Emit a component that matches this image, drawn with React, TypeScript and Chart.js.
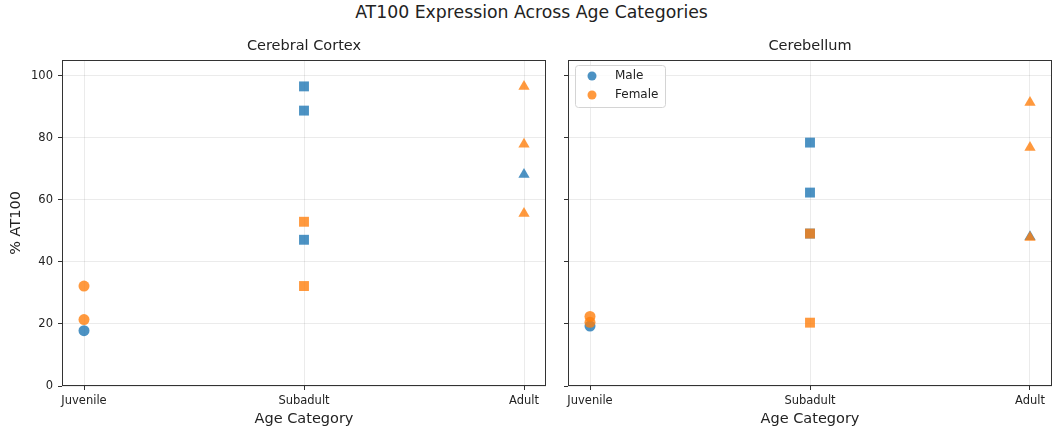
import React, { useEffect, useRef } from 'react';
import { Chart, registerables } from 'chart.js';

Chart.register(...registerables);

// Category axis and ticks
const categories = ['Juvenile', 'Subadult', 'Adult'];
const sexes = ['Male', 'Female'];
const yTickValues = [0, 20, 40, 60, 80, 100];

// % AT100 per animal, grouped by age category (Juvenile, Subadult, Adult)
const cortexMale = [[17.8], [96.5, 88.7, 47.1], [68.1]];
const cortexFemale = [[32.2, 21.4], [52.9, 32.2], [96.5, 77.9, 55.6]];
const cerebellumMale = [[19.3], [78.4, 62.3, 49.1], [48.1]];
const cerebellumFemale = [[22.4, 20.5], [49.1, 20.4], [91.3, 76.8, 47.8]];

const BLUE = 'rgba(31, 119, 180, 0.8)';
const ORANGE = 'rgba(255, 127, 14, 0.8)';
const FONT = "'DejaVu Sans', sans-serif";
const TEXT = '#222';
const GRID = 'rgba(0, 0, 0, 0.08)';

const toPoints = (groups: number[][]) =>
  groups.flatMap((vals, ci) => vals.map(v => ({ x: ci, y: v })));

// one marker shape per age category
const markerFor = (ctx: any) => ['circle', 'rect', 'triangle'][ctx.raw?.x ?? 0];
const radiusFor = (ctx: any) => [5.5, 7, 6.5][ctx.raw?.x ?? 0];

// box around the plot area, like matplotlib spines
const framePlugin = {
  id: 'frame',
  afterDraw(chart: any) {
    const { ctx, chartArea: a } = chart;
    ctx.save();
    ctx.strokeStyle = '#333';
    ctx.lineWidth = 1;
    ctx.strokeRect(Math.round(a.left) + 0.5, Math.round(a.top) + 0.5,
      Math.round(a.right - a.left) - 1, Math.round(a.bottom - a.top) - 1);
    ctx.restore();
  }
};

// legend drawn inside the upper-left corner of the plot area
const insideLegend = {
  id: 'insideLegend',
  afterDraw(chart: any) {
    const { ctx, chartArea: a } = chart;
    const x = Math.round(a.left) + 7;
    const y = Math.round(a.top) + 5;
    ctx.save();
    ctx.fillStyle = 'rgba(255, 255, 255, 0.8)';
    ctx.strokeStyle = '#d4d4d4';
    ctx.lineWidth = 1;
    ctx.beginPath();
    ctx.roundRect(x + 0.5, y + 0.5, 90, 42, 3);
    ctx.fill();
    ctx.stroke();
    chart.data.datasets.forEach((ds: any, i: number) => {
      const cy = y + 11 + i * 19;
      ctx.fillStyle = ds.backgroundColor;
      ctx.beginPath();
      ctx.arc(x + 17, cy, 4.5, 0, Math.PI * 2);
      ctx.fill();
      ctx.fillStyle = TEXT;
      ctx.font = `12px ${FONT}`;
      ctx.textBaseline = 'middle';
      ctx.fillText(ds.label, x + 40, cy);
    });
    ctx.restore();
  }
};

interface PanelProps {
  title: string;
  male: number[][];
  female: number[][];
  width: number;
  yAxisWidth: number;
  padRight: number;
  showYLabels: boolean;
  legend: boolean;
}

const Panel: React.FC<PanelProps> = ({ title, male, female, width, yAxisWidth, padRight, showYLabels, legend }) => {
  const canvasRef = useRef<HTMLCanvasElement>(null);

  useEffect(() => {
    if (!canvasRef.current) return;
    const tickFont = { family: FONT, size: 11.5 };
    const labelFont = { family: FONT, size: 14.5 };

    const chart = new Chart(canvasRef.current, {
      type: 'scatter',
      data: {
        datasets: [
          {
            label: sexes[0],
            data: toPoints(male),
            backgroundColor: BLUE,
            borderWidth: 0,
            pointStyle: markerFor,
            pointRadius: radiusFor,
            order: 2 // drawn underneath the female points
          },
          {
            label: sexes[1],
            data: toPoints(female),
            backgroundColor: ORANGE,
            borderWidth: 0,
            pointStyle: markerFor,
            pointRadius: radiusFor,
            order: 1
          }
        ]
      } as any,
      options: {
        responsive: false,
        animation: false,
        layout: { padding: { left: 0, right: padRight, top: 0, bottom: 0 } },
        plugins: {
          legend: { display: false },
          tooltip: { enabled: false },
          title: {
            display: true,
            text: title,
            fullSize: false,
            color: TEXT,
            font: { ...labelFont, weight: 'normal' },
            padding: { top: 37.3, bottom: 5.3 }
          }
        },
        scales: {
          x: {
            type: 'linear',
            min: -0.1,
            max: 2.1,
            afterBuildTicks: (s: any) => { s.ticks = categories.map((_, i) => ({ value: i })); },
            afterFit: (s: any) => { s.height = 50; },
            ticks: {
              callback: (v: any) => categories[v] ?? '',
              font: tickFont,
              color: TEXT,
              padding: 4,
              maxRotation: 0,
              autoSkip: false
            },
            grid: { color: GRID, tickColor: '#333', tickLength: 4 },
            border: { display: false },
            title: {
              display: true,
              text: 'Age Category',
              color: TEXT,
              font: labelFont,
              padding: { top: 0, bottom: 8.3 }
            }
          },
          y: {
            min: 0,
            max: 105,
            afterBuildTicks: (s: any) => { s.ticks = yTickValues.map(v => ({ value: v })); },
            afterFit: (s: any) => { s.width = yAxisWidth; },
            ticks: { display: showYLabels, font: tickFont, color: TEXT, padding: 5 },
            grid: { color: GRID, tickColor: '#333', tickLength: 4 },
            border: { display: false },
            title: {
              display: showYLabels,
              text: '% AT100',
              color: TEXT,
              font: labelFont,
              padding: { top: 7.3, bottom: 0 }
            }
          }
        }
      } as any,
      plugins: legend ? [framePlugin, insideLegend] : [framePlugin]
    });

    return () => chart.destroy();
  }, [title, male, female, width, yAxisWidth, padRight, showYLabels, legend]);

  return <canvas ref={canvasRef} width={width} height={436} style={{ display: 'block' }} />;
};

const App: React.FC = () => {
  return (
    <div style={{ position: 'absolute', left: 0, top: 0, width: 1059, height: 436, background: '#fff', fontFamily: FONT }}>
      <div style={{ position: 'absolute', left: 2, top: 0, width: 1059, textAlign: 'center', fontSize: 17.3, lineHeight: '24px', color: TEXT }}>
        AT100 Expression Across Age Categories
      </div>
      <div style={{ position: 'absolute', left: 0, top: 0 }}>
        <Panel title="Cerebral Cortex" male={cortexMale} female={cortexFemale}
          width={556} yAxisWidth={62} padRight={10} showYLabels={true} legend={false} />
      </div>
      <div style={{ position: 'absolute', left: 556, top: 0 }}>
        <Panel title="Cerebellum" male={cerebellumMale} female={cerebellumFemale}
          width={503} yAxisWidth={12} padRight={6} showYLabels={false} legend={true} />
      </div>
    </div>
  );
};

export default App;
